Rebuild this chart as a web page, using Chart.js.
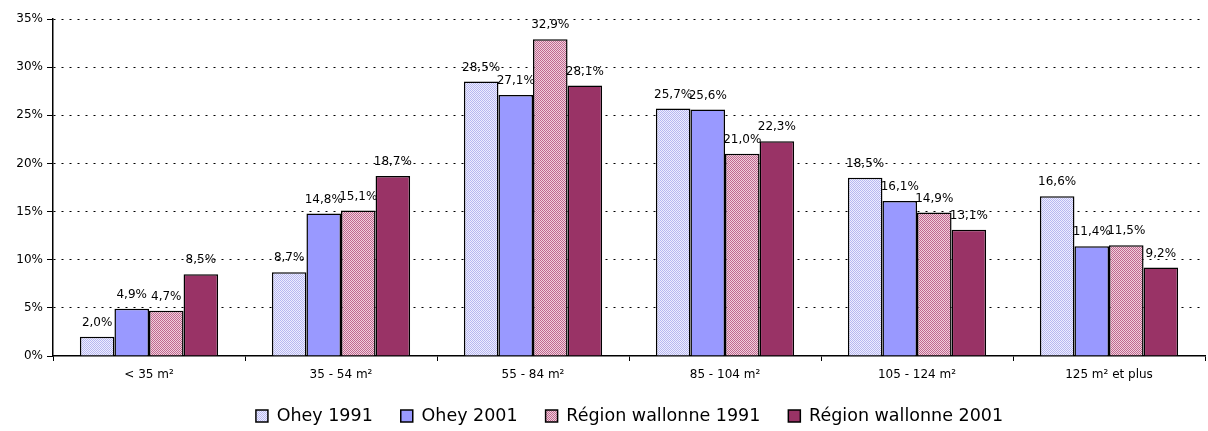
<!DOCTYPE html>
<html>
<head>
<meta charset="utf-8">
<script src="https://cdn.jsdelivr.net/npm/chart.js@4"></script>
<style>
  html, body { margin: 0; padding: 0; background: #fff; }
  #wrap { width: 1208px; height: 431px; }
</style>
</head>
<body>
<div id="wrap"><canvas id="chart" width="1208" height="431"></canvas></div>
<script>
const categories = ["< 35 m²", "35 - 54 m²", "55 - 84 m²", "85 - 104 m²", "105 - 124 m²", "125 m² et plus"];
const ohey1991 = [2.0, 8.7, 28.5, 25.7, 18.5, 16.6];
const ohey2001 = [4.9, 14.8, 27.1, 25.6, 16.1, 11.4];
const wallonie1991 = [4.7, 15.1, 32.9, 21.0, 14.9, 11.5];
const wallonie2001 = [8.5, 18.7, 28.1, 22.3, 13.1, 9.2];
const yTicks = [0, 5, 10, 15, 20, 25, 30, 35];

const FONT = "'DejaVu Sans', Verdana, sans-serif";
const LEGEND_PAD = 28;
const LEGEND_FONT = 17.5;

// petit motif en damier pour imiter les trames d'Excel
function makePattern(c1, c2) {
    const p = document.createElement("canvas");
    p.width = 2; p.height = 2;
    const g = p.getContext("2d");
    g.fillStyle = c1; g.fillRect(0, 0, 2, 2);
    g.fillStyle = c2; g.fillRect(0, 0, 1, 1); g.fillRect(1, 1, 1, 1);
    return g.createPattern(p, "repeat");
}

const fmt = v => v.toFixed(1).replace(".", ",") + "%";

const valueLabels = {
    id: "valueLabels",
    afterDatasetsDraw(chart) {
        const ctx = chart.ctx;
        ctx.save();
        ctx.font = "12px " + FONT;
        ctx.fillStyle = "#000";
        ctx.textAlign = "center";
        ctx.textBaseline = "bottom";
        chart.data.datasets.forEach((ds, i) => {
            chart.getDatasetMeta(i).data.forEach((bar, j) => {
                ctx.fillText(fmt(ds.data[j]), bar.x, bar.y - 8);
            });
        });
        ctx.restore();
    }
};

// légende : grand espacement horizontal sans manger la zone de tracé
const legendFix = {
    id: "legendFix",
    afterInit(chart) {
        const lg = chart.legend;
        const fit = lg.fit;
        lg.fit = function () { fit.call(this); this.height = 35; };
    },
    afterLayout(chart) {
        const lg = chart.legend;
        lg.top = 416 - LEGEND_PAD - LEGEND_FONT / 2;
        // dans l'original la légende est un peu décalée vers la droite
        lg.left += 27;
        lg.right += 27;
    }
};

const ctx = document.getElementById("chart").getContext("2d");
new Chart(ctx, {
    type: "bar",
    data: {
        labels: categories,
        datasets: [
            { label: "Ohey 1991", data: ohey1991, backgroundColor: makePattern("#eeeeff", "#b8b8f0") },
            { label: "Ohey 2001", data: ohey2001, backgroundColor: "#9999ff" },
            { label: "Région wallonne 1991", data: wallonie1991, backgroundColor: makePattern("#f0d0dc", "#c06890") },
            { label: "Région wallonne 2001", data: wallonie2001, backgroundColor: "#993366" }
        ].map(d => Object.assign(d, {
            borderColor: "#000",
            borderWidth: 1.5,
            categoryPercentage: 0.72,
            barPercentage: 1.0
        }))
    },
    options: {
        responsive: false,
        animation: false,
        layout: { padding: { top: 19, right: 3, left: 0, bottom: 0 } },
        plugins: {
            legend: {
                position: "bottom",
                labels: {
                    color: "#000",
                    font: { family: FONT, size: LEGEND_FONT },
                    boxWidth: 12,
                    boxHeight: 12,
                    padding: LEGEND_PAD
                }
            },
            tooltip: { enabled: false }
        },
        scales: {
            x: {
                afterFit(scale) { scale.height = 40; },
                grid: {
                    display: true,
                    offset: true,
                    drawOnChartArea: false,
                    color: "#000",
                    tickLength: 5
                },
                border: { color: "#000", width: 1.5 },
                ticks: {
                    color: "#000",
                    font: { family: FONT, size: 12 },
                    padding: 7,
                    maxRotation: 0
                }
            },
            y: {
                min: 0,
                max: 35,
                afterFit(scale) { scale.width = 53; },
                afterBuildTicks(scale) { scale.ticks = yTicks.map(v => ({ value: v })); },
                grid: {
                    color: c => (c.tick && c.tick.value === 0) ? "rgba(0,0,0,0)" : "#000",
                    lineWidth: 1,
                    tickLength: 6,
                    tickColor: "#000",
                    tickBorderDash: []
                },
                // en v4, border.dash s'applique aux lignes du quadrillage
                border: { color: "#000", width: 1.5, dash: [2, 6] },
                ticks: {
                    color: "#000",
                    font: { family: FONT, size: 12 },
                    padding: 4,
                    callback: v => v + "%"
                }
            }
        }
    },
    plugins: [valueLabels, legendFix]
});
</script>
</body>
</html>
